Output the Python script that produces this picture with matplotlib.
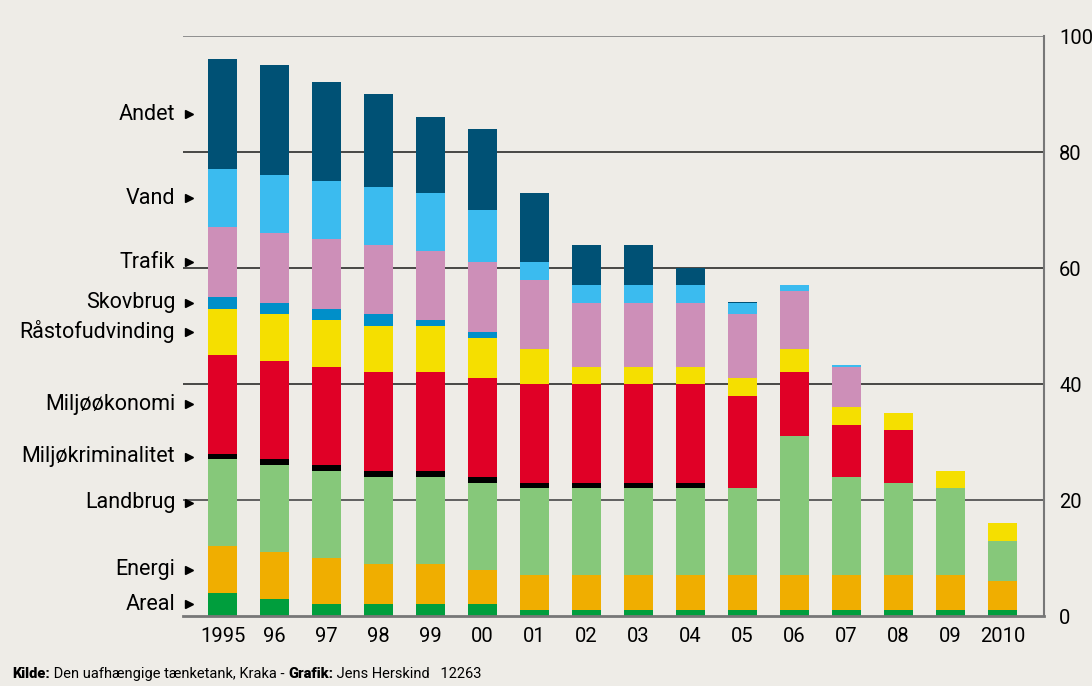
import numpy as np
from matplotlib import pyplot as plt

plt.rcParams['font.family'] = ['Roboto', 'DejaVu Sans']

years = ["1995", "96", "97", "98", "99", "00", "01", "02", "03", "04",
         "05", "06", "07", "08", "09", "2010"]

categories = ["Areal", "Energi", "Landbrug", "Miljøkriminalitet", "Miljøøkonomi",
              "Råstofudvinding", "Skovbrug", "Trafik", "Vand", "Andet"]

areal = [4, 3, 2, 2, 2, 2, 1, 1, 1, 1, 1, 1, 1, 1, 1, 1]
energi = [8, 8, 8, 7, 7, 6, 6, 6, 6, 6, 6, 6, 6, 6, 6, 5]
landbrug = [15, 15, 15, 15, 15, 15, 15, 15, 15, 15, 15, 24, 17, 16, 15, 7]
miljoekriminalitet = [1, 1, 1, 1, 1, 1, 1, 1, 1, 1, 0, 0, 0, 0, 0, 0]
miljoeoekonomi = [17, 17, 17, 17, 17, 17, 17, 17, 17, 17, 16, 11, 9, 9, 0, 0]
raastof = [8, 8, 8, 8, 8, 7, 6, 3, 3, 3, 3, 4, 3, 3, 3, 3]
skovbrug = [2, 2, 2, 2, 1, 1, 0, 0, 0, 0, 0, 0, 0, 0, 0, 0]
trafik = [12, 12, 12, 12, 12, 12, 12, 11, 11, 11, 11, 10, 7, 0, 0, 0]
vand = [10, 10, 10, 10, 10, 9, 3, 3, 3, 3, 2, 1, 0.3, 0, 0, 0]
andet = [19, 19, 17, 16, 13, 14, 12, 7, 7, 3, 0.2, 0, 0, 0, 0, 0]

series = [areal, energi, landbrug, miljoekriminalitet, miljoeoekonomi,
          raastof, skovbrug, trafik, vand, andet]
colors = ["#009E3D", "#F0AE00", "#86C87A", "#000000", "#E00026",
          "#F5DF00", "#008FC9", "#CD8FB8", "#3BBBEF", "#005175"]

bg = "#EEECE7"
fig = plt.figure(figsize=(10.92, 6.86), dpi=100, facecolor=bg)
ax = fig.add_axes([0.1676, 0.102, 0.7884, 0.8455], facecolor=bg)

x = np.arange(len(years))
bottom = np.zeros(len(years))
for vals, col in zip(series, colors):
    ax.bar(x, vals, bottom=bottom, width=0.56, color=col, zorder=3)
    bottom += np.array(vals)

# gridlines
for t in [40, 60, 80]:
    ax.axhline(t, color="#1a1a1a", linewidth=1.1, zorder=1)
ax.axhline(20, color="#555555", linewidth=1.3, zorder=1)
ax.axhline(100, color="#888888", linewidth=1.3, zorder=1)

ax.set_xlim(-0.76, 15.8)
ax.set_ylim(0, 100)
ax.set_xticks(x)
ax.set_xticklabels(years, fontsize=14.5)
ax.set_yticks([0, 20, 40, 60, 80, 100])
ax.yaxis.tick_right()
ax.tick_params(axis="y", length=0, labelsize=14.5, pad=11)
ax.tick_params(axis="x", length=0, pad=8)
for s in ["top", "left"]:
    ax.spines[s].set_visible(False)
ax.spines["bottom"].set_color("#777777")
ax.spines["bottom"].set_linewidth(2)
ax.spines["bottom"].set_zorder(4)
ax.spines["right"].set_color("#777777")
ax.spines["right"].set_linewidth(1.5)

# category labels beside the first bar
first = [s[0] for s in series]
cum = np.cumsum([0] + first)
for i, name in enumerate(categories):
    mid = (cum[i] + cum[i + 1]) / 2
    ax.text(-0.91, mid, name, ha="right", va="center", fontsize=15.5, clip_on=False)
    ax.plot(-0.65, mid, marker=">", color="black", markersize=6, clip_on=False, zorder=5)

# source line
t1 = fig.text(0.011, 0.012, "Kilde:", fontsize=10.5, fontweight="heavy")
t2 = fig.text(0, 0, " Den uafhængige tænketank, Kraka - ", fontsize=10.5)
t3 = fig.text(0, 0, "Grafik:", fontsize=10.5, fontweight="heavy")
t4 = fig.text(0, 0, " Jens Herskind   12263", fontsize=10.5)
fig.canvas.draw()
r = fig.canvas.get_renderer()
prev = t1
for t in [t2, t3, t4]:
    bb = prev.get_window_extent(r)
    t.set_position((bb.x1 / fig.bbox.width, 0.012))
    fig.canvas.draw()
    prev = t

fig.savefig("out.png", dpi=100, facecolor=bg)
